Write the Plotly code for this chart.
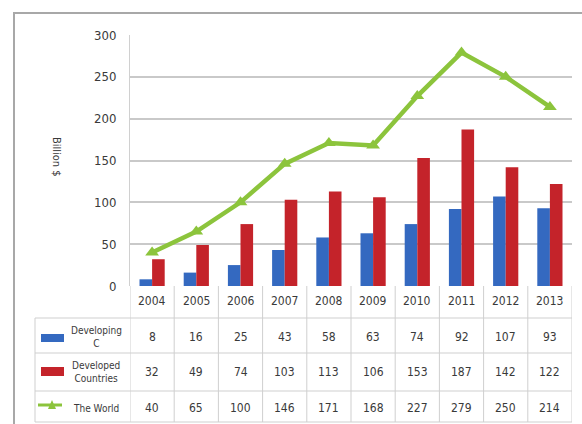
import plotly.graph_objects as go

# Outward FDI flows, billion $
years = ["2004", "2005", "2006", "2007", "2008", "2009", "2010", "2011", "2012", "2013"]
developing = [8, 16, 25, 43, 58, 63, 74, 92, 107, 93]
developed = [32, 49, 74, 103, 113, 106, 153, 187, 142, 122]
world = [40, 65, 100, 146, 171, 168, 227, 279, 250, 214]
y_ticks = [0, 50, 100, 150, 200, 250, 300]

W, H = 582, 424
L, R, T, B = 130, 10, 35, 138
PW, PH = W - L - R, H - T - B

FONT = "DejaVu Sans Condensed, Liberation Sans Narrow, Arial Narrow, sans-serif"
BLUE = "#3469c0"
RED = "#c4232a"
GREEN = "#8cc43c"
GRID = "#c9c9c9"
TXT = "#3a3a3a"


def px(xp):
    return (xp - L) / PW


def py(yp):
    return (H - B - yp) / PH


fig = go.Figure()
fig.add_trace(go.Bar(x=years, y=developing, name="Developing C",
                     marker=dict(color=BLUE, line=dict(width=0))))
fig.add_trace(go.Bar(x=years, y=developed, name="Developed Countries",
                     marker=dict(color=RED, line=dict(width=0))))
fig.add_trace(go.Scatter(x=years, y=world, name="The World", mode="lines+markers",
                         line=dict(color=GREEN, width=4.5),
                         marker=dict(symbol="triangle-up", size=12, color=GREEN)))

shapes = []
annotations = []

# outer frame (top and left edges visible)
shapes.append(dict(type="rect", xref="paper", yref="paper",
                   x0=px(14), x1=px(600), y0=py(440), y1=py(13),
                   line=dict(color="#a8a8a8", width=2), layer="below"))

# data table rows
for yl in [318, 353, 391, 422]:
    shapes.append(dict(type="line", xref="paper", yref="paper",
                       x0=px(35), x1=px(572), y0=py(yl), y1=py(yl),
                       line=dict(color="#cfcfcf", width=1)))
shapes.append(dict(type="line", xref="paper", yref="paper",
                   x0=px(35), x1=px(35), y0=py(318), y1=py(422),
                   line=dict(color="#cfcfcf", width=1)))
# column separators
for k in range(len(years) + 1):
    shapes.append(dict(type="line", xref="x", yref="paper",
                       x0=k - 0.5, x1=k - 0.5, y0=py(286), y1=py(422),
                       line=dict(color="#cfcfcf", width=1)))

# legend keys in table
shapes.append(dict(type="rect", xref="paper", yref="paper",
                   x0=px(41), x1=px(64), y0=py(342), y1=py(334),
                   fillcolor=BLUE, line=dict(width=0)))
shapes.append(dict(type="rect", xref="paper", yref="paper",
                   x0=px(41), x1=px(64), y0=py(376), y1=py(367),
                   fillcolor=RED, line=dict(width=0)))
shapes.append(dict(type="line", xref="paper", yref="paper",
                   x0=px(38), x1=px(62), y0=py(405), y1=py(405),
                   line=dict(color=GREEN, width=3)))
shapes.append(dict(type="path", xref="paper", yref="paper",
                   path=f"M {px(48)},{py(409)} L {px(56)},{py(409)} L {px(52)},{py(400)} Z",
                   fillcolor=GREEN, line=dict(width=0)))

row_labels = [("Developing<br>C", 337), ("Developed<br>Countries", 372), ("The World", 408)]
for text, yc in row_labels:
    annotations.append(dict(text=text, xref="paper", yref="paper",
                            x=px(96), y=py(yc), showarrow=False,
                            font=dict(family=FONT, size=10, color=TXT),
                            xanchor="center", yanchor="middle"))

rows = [(developing, 337), (developed, 372), (world, 408)]
for i, yr in enumerate(years):
    annotations.append(dict(text=yr, xref="x", yref="paper", x=i, y=py(301),
                            showarrow=False, xanchor="center", yanchor="middle",
                            font=dict(family=FONT, size=12, color=TXT)))
    for vals, yc in rows:
        annotations.append(dict(text=str(vals[i]), xref="x", yref="paper", x=i, y=py(yc),
                                showarrow=False, xanchor="center", yanchor="middle",
                                font=dict(family=FONT, size=12, color=TXT)))

# y axis title, reading top to bottom
annotations.append(dict(text="Billion $", xref="paper", yref="paper",
                        x=px(57), y=py(157), showarrow=False, textangle=90,
                        font=dict(family=FONT, size=11, color=TXT),
                        xanchor="center", yanchor="middle"))

fig.update_layout(
    width=W, height=H,
    margin=dict(l=L, r=R, t=T, b=B),
    paper_bgcolor="white", plot_bgcolor="white",
    barmode="group", bargap=0.43, bargroupgap=0,
    showlegend=False,
    xaxis=dict(range=[-0.5, len(years) - 0.5], showticklabels=False, showgrid=False,
               zeroline=False, showline=False, ticks=""),
    yaxis=dict(range=[0, 300], tickvals=y_ticks, showgrid=True, gridcolor=GRID, gridwidth=1.5,
               zeroline=False, showline=True, linecolor="#d0d0d0", linewidth=1,
               ticks="", ticklabelstandoff=10,
               tickfont=dict(family=FONT, size=13, color=TXT)),
    shapes=shapes, annotations=annotations,
)

fig.write_html("out.html")
